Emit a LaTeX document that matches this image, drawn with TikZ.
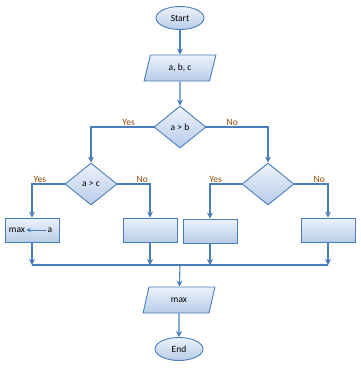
\documentclass[tikz,border=0pt]{standalone}
\usepackage{fontspec}
\setmainfont{Carlito}
\usetikzlibrary{shapes.geometric,arrows.meta}
\definecolor{flowblue}{RGB}{74,126,187}
\definecolor{fillhi}{RGB}{236,242,251}
\definecolor{filllo}{RGB}{184,204,232}
\definecolor{yesno}{RGB}{152,72,7}
\tikzset{
 blk/.style={draw=flowblue,line width=.9pt,top color=fillhi,bottom color=filllo,font=\fontsize{9.5}{11}\selectfont,inner sep=1pt},
 term/.style={blk,ellipse,minimum width=48,minimum height=23},
 io/.style={blk,trapezium,trapezium left angle=75,trapezium right angle=105,trapezium stretches=true,minimum width=72,minimum height=26},
 test/.style={blk,diamond,minimum width=52,minimum height=42},
 proc/.style={blk,rectangle,minimum width=54,minimum height=24},
 flow/.style={draw=flowblue,line width=1.1pt,-{Stealth[length=6pt,width=6pt,inset=2pt]}},
 lbl/.style={text=yesno,font=\fontsize{9.5}{11}\selectfont,inner sep=1pt}
}
\begin{document}
\begin{tikzpicture}[x=1pt,y=-1pt]
\useasboundingbox (0,0) rectangle (361,376);
\node[term](start)at(180,18){Start};
\node[io](in)at(180,68){a, b, c};
\node[test](ab)at(180,127){a > b};
\node[test](ac)at(91,184){a > c};\node[test](rt)at(268,184){};
\node[proc](m1)at(32,230){};\node[proc](m2)at(150,230){};\node[proc](m3)at(210,231){};\node[proc](m4)at(328,230){};
\node[io](out)at(179,300){max};
\node[term](stop)at(179,349){End};
% max <- a
\node[font=\fontsize{9.5}{11}\selectfont,inner sep=1pt](mx)at(17,230){max};\node[font=\fontsize{9.5}{11}\selectfont,inner sep=1.5pt](va)at(50,230){a};
\draw[flowblue,line width=.9pt,-{Stealth[length=4.5pt,width=4.5pt]}](va)--(mx);
\coordinate(jn)at(180,265);
\draw[flow](start)--(in);\draw[flow](in)--(ab);
\draw[flow](ab.west)-|node[lbl,above,pos=.2]{Yes}(ac.north);\draw[flow](ab.east)-|node[lbl,above,pos=.21]{No}(rt.north);
\draw[flow](ac.west)-|node[lbl,above,pos=.38]{Yes}(m1.north);\draw[flow](ac.east)-|node[lbl,above,pos=.38]{No}(m2.north);
\draw[flow](rt.west)-|node[lbl,above,pos=.41]{Yes}(m3.north);\draw[flow](rt.east)-|node[lbl,above,pos=.37]{No}(m4.north);
\foreach \m in {m1,m2,m3,m4}{\draw[flow](\m.south)--(\m.south|-jn);}
\draw[flowblue,line width=1.1pt](m1.south|-jn)--(m4.south|-jn);
\draw[flow](jn)--(out);\draw[flow](out)--(stop);
\end{tikzpicture}
\end{document}
